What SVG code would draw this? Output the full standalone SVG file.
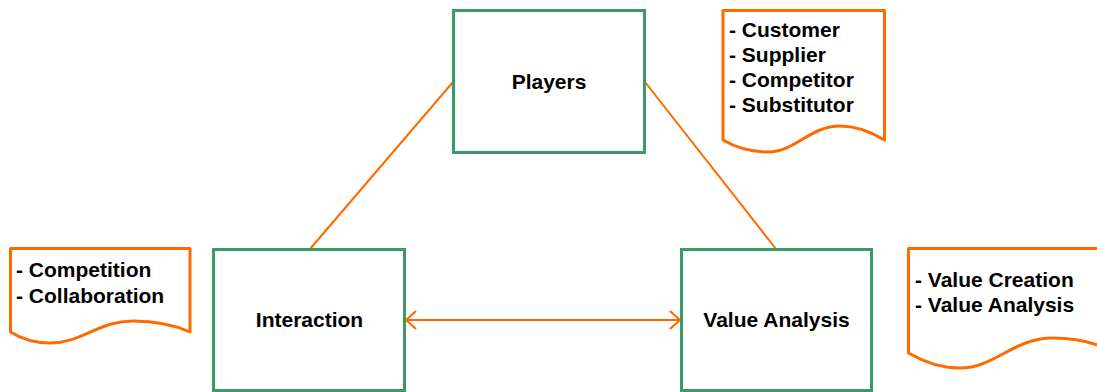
<svg xmlns="http://www.w3.org/2000/svg" width="1097" height="392" viewBox="0 0 1097 392">
  <style>
    .box { fill: #ffffff; stroke: #3a9b68; stroke-width: 3; }
    .doc { fill: #ffffff; stroke: #ff6a00; stroke-width: 3; stroke-linejoin: round; }
    .link { fill: none; stroke: #ff6a00; stroke-width: 2; }
    .label { font-family: "Liberation Sans", Arial, sans-serif; font-size: 21px; font-weight: bold; fill: #000000; }
    .center { text-anchor: middle; }
  </style>
  <defs>
    <marker id="chev" viewBox="0 0 12 20" refX="11" refY="10" markerWidth="12" markerHeight="20" markerUnits="userSpaceOnUse" orient="auto-start-reverse">
      <path d="M1,1 L11,10 L1,19" fill="none" stroke="#ff6a00" stroke-width="2"/>
    </marker>
  </defs>

  <g id="connectors">
    <line class="link" x1="453" y1="82" x2="310" y2="249"/>
    <line class="link" x1="645" y1="82" x2="776" y2="249"/>
    <line class="link" x1="406" y1="320" x2="680" y2="320" marker-start="url(#chev)" marker-end="url(#chev)"/>
  </g>

  <g id="players">
    <rect class="box" x="453.5" y="10.5" width="191" height="142"/>
    <text class="label center" x="549" y="88.5">Players</text>
  </g>

  <g id="interaction">
    <rect class="box" x="213.5" y="249.5" width="191" height="141"/>
    <text class="label center" x="309.5" y="327">Interaction</text>
  </g>

  <g id="value-analysis">
    <rect class="box" x="681.5" y="249.5" width="190" height="141"/>
    <text class="label center" x="776.5" y="327">Value Analysis</text>
  </g>

  <!-- document shapes with a wavy lower edge -->
  <g id="players-note">
    <path class="doc" d="M723,10.5 H884.5 V140 C868,130 855,126 840,126 C810,126 795,152 768,152 C748,152 735,147 723,140 Z"/>
    <text class="label" x="729" y="36.5">- Customer</text>
    <text class="label" x="729" y="61.8">- Supplier</text>
    <text class="label" x="729" y="87">- Competitor</text>
    <text class="label" x="729" y="112.3">- Substitutor</text>
  </g>

  <g id="interaction-note">
    <path class="doc" d="M10.5,248.5 H190 V332 C172,324 155,321 133,321 C98,321 83,343 50,343 C33,343 20,338 10.5,332 Z"/>
    <text class="label" x="16" y="276.7">- Competition</text>
    <text class="label" x="16" y="302.7">- Collaboration</text>
  </g>

  <g id="value-note">
    <path class="doc" d="M908.5,248.5 H1120 V356 C1100,343 1075,338 1053,338 C1013,338 995,368 960,368 C940,368 922,361 908.5,353 Z"/>
    <text class="label" x="915" y="286.7">- Value Creation</text>
    <text class="label" x="915" y="311.7">- Value Analysis</text>
  </g>
</svg>
